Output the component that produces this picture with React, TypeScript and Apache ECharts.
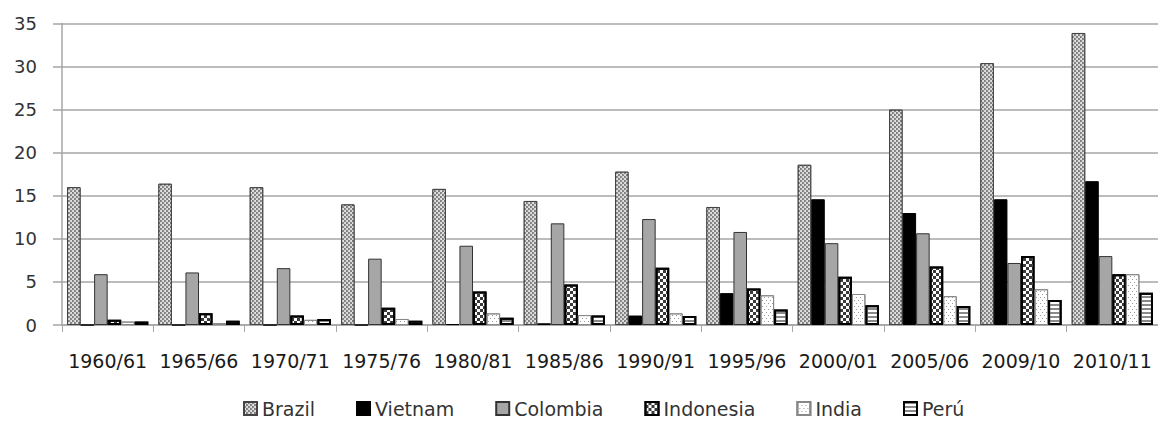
import React, { useEffect, useRef } from "react";
import * as echarts from "echarts";

const categories = ["1960/61","1965/66","1970/71","1975/76","1980/81","1985/86","1990/91","1995/96","2000/01","2005/06","2009/10","2010/11"];
const brazil =    [16.0, 16.4, 16.0, 14.0, 15.8, 14.4, 17.8, 13.7, 18.6, 25.0, 30.4, 33.9];
const vietnam =   [0, 0, 0, 0, 0.1, 0.2, 1.1, 3.7, 14.6, 13.0, 14.6, 16.7];
const colombia =  [5.9, 6.1, 6.6, 7.7, 9.2, 11.8, 12.3, 10.8, 9.5, 10.65, 7.2, 8.0];
const indonesia = [0.6, 1.35, 1.1, 2.0, 3.9, 4.7, 6.65, 4.25, 5.6, 6.8, 8.0, 5.9];
const india =     [0.4, 0.2, 0.6, 0.7, 1.35, 1.15, 1.35, 3.45, 3.6, 3.35, 4.15, 5.9];
const peru =      [0.4, 0.5, 0.7, 0.5, 0.85, 1.1, 1.05, 1.8, 2.3, 2.2, 2.9, 3.75];
const yTicks = [0, 5, 10, 15, 20, 25, 30, 35];

const FONT = "DejaVu Sans";

export default function App() {
  const ref = useRef<HTMLDivElement>(null);
  useEffect(() => {
    if (!ref.current) return;
    const chart = echarts.init(ref.current, null, { renderer: "svg" });
    const mk = (name: string, data: number[], itemStyle: any) => ({
      name,
      type: "bar",
      data,
      barGap: "0%",
      barCategoryGap: "11%",
      itemStyle,
    });
    chart.setOption({
      animation: false,
      grid: { left: 62, top: 23.5, bottom: 100, right: -4 },
      legend: {
        bottom: 2,
        left: 238,
        icon: "rect",
        itemWidth: 13,
        itemHeight: 13,
        itemGap: 41,
        textStyle: { fontFamily: FONT, fontSize: 19, color: "#333" },
        data: ["Brazil", "Vietnam", "Colombia", "Indonesia", "India", "Perú"],
      },
      xAxis: {
        type: "category",
        data: categories,
        axisLine: { lineStyle: { color: "#a6a6a6", width: 1.5 } },
        axisTick: { show: true, length: 7, lineStyle: { color: "#a6a6a6", width: 1 } },
        axisLabel: { fontFamily: FONT, fontSize: 19, color: "#1a1a1a", margin: 26, interval: 0 },
      },
      yAxis: {
        type: "value",
        min: 0,
        max: 35,
        interval: 5,
        axisLine: { show: true, lineStyle: { color: "#a6a6a6", width: 1.5 } },
        axisTick: { show: true, length: 9, lineStyle: { color: "#a6a6a6", width: 1.5 } },
        splitLine: { lineStyle: { color: "#a6a6a6", width: 1.5 } },
        axisLabel: {
          fontFamily: FONT, fontSize: 18, color: "#333", margin: 25,
          formatter: (v: number) => (yTicks.includes(v) ? String(v) : ""),
        },
      },
      series: [
        mk("Brazil", brazil, {
          color: "#7e7e7e", borderColor: "#444", borderWidth: 1,
          decal: { symbol: "circle", symbolSize: 1, color: "#eeeeee", dashArrayX: [[2, 2], [0, 2, 2, 0]], dashArrayY: [2, 0] },
        }),
        mk("Vietnam", vietnam, { color: "#000", borderColor: "#000", borderWidth: 1 }),
        mk("Colombia", colombia, { color: "#a6a6a6", borderColor: "#333", borderWidth: 1 }),
        mk("Indonesia", indonesia, {
          color: "#ffffff", borderColor: "#000", borderWidth: 2,
          decal: { symbol: "rect", symbolSize: 1, color: "#3a3a3a", dashArrayX: [[3, 3], [0, 3, 3, 0]], dashArrayY: [3, 0] },
        }),
        mk("India", india, {
          color: "#ffffff", borderColor: "#888", borderWidth: 1,
          decal: { symbol: "rect", symbolSize: 1, color: "#9a9a9a", dashArrayX: [[1, 3], [0, 2, 1, 1]], dashArrayY: [1, 2] },
        }),
        mk("Perú", peru, {
          color: "#ffffff", borderColor: "#000", borderWidth: 2,
          decal: { symbol: "rect", symbolSize: 1, color: "#8a8a8a", dashArrayX: [1, 0], dashArrayY: [2, 2] },
        }),
      ],
    });
    return () => chart.dispose();
  }, []);
  return <div ref={ref} style={{ width: 1158, height: 425, position: "absolute", left: 0, top: 0 }} />;
}
